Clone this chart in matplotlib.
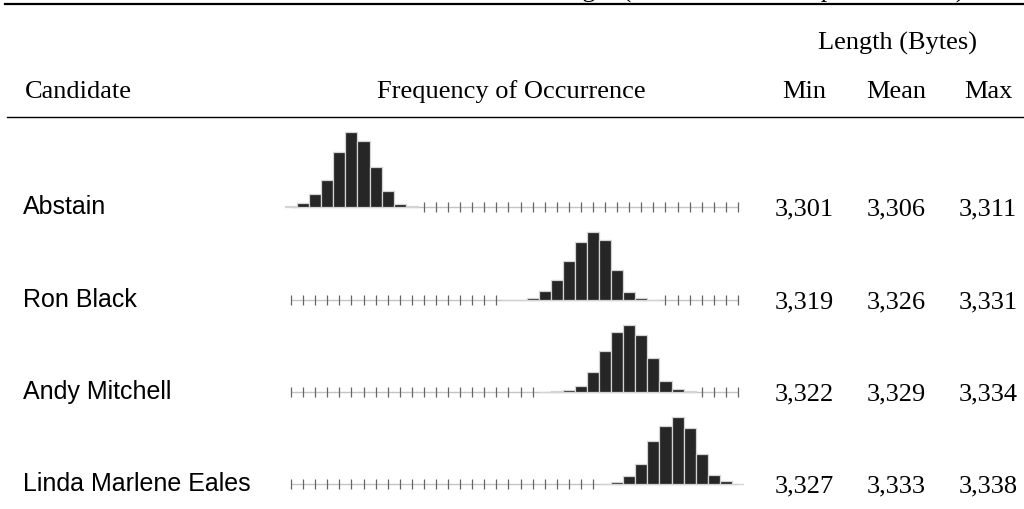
import numpy as np
import matplotlib
matplotlib.use('Agg')
import matplotlib.pyplot as plt
from matplotlib.lines import Line2D

# table data
candidates = ['Abstain', 'Ron Black', 'Andy Mitchell', 'Linda Marlene Eales']
len_min = [3301, 3319, 3322, 3327]
len_mean = [3306, 3326, 3329, 3333]
len_max = [3311, 3331, 3334, 3338]

# frequency of each length, from min to max (relative counts)
freq_abstain = [3, 12, 38, 81, 165, 225, 198, 121, 49, 10, 2]
freq_black = [1, 1, 7, 28, 61, 118, 175, 205, 179, 89, 25, 5, 1]
freq_mitchell = [1, 3, 7, 19, 60, 123, 180, 200, 170, 102, 32, 10, 2]
freq_eales = [1, 7, 23, 61, 128, 173, 200, 168, 89, 28, 10, 1]
freqs = [freq_abstain, freq_black, freq_mitchell, freq_eales]

all_lengths = np.arange(min(len_min), max(len_max) + 1)

W, H = 1024, 510
fig = plt.figure(figsize=(W / 100, H / 100), dpi=100)

def fx(px):
    return px / W

def fy(py):
    return 1 - py / H

serif = 'Liberation Serif'
sans = 'Liberation Sans'
fs = 19

# caption, cut off at the top edge as in the original
fig.text(fx(722), fy(-2), 'Ballot length (one thousand samples for each)',
         family=serif, fontsize=fs, ha='center', va='baseline')

# rules
fig.add_artist(Line2D([fx(5), fx(1024)], [fy(5), fy(5)], color='black', lw=1.6))
fig.add_artist(Line2D([fx(7), fx(1024)], [fy(118), fy(118)], color='black', lw=1.0))

# headers
fig.text(fx(897), fy(50), 'Length (Bytes)', family=serif, fontsize=fs,
         ha='center', va='baseline')
fig.text(fx(25), fy(98), 'Candidate', family=serif, fontsize=fs, va='baseline')
fig.text(fx(511), fy(98), 'Frequency of Occurrence', family=serif, fontsize=fs,
         ha='center', va='baseline')
col_x = [804, 896, 988]
for x, lab in zip(col_x, ['Min', 'Mean', 'Max']):
    fig.text(fx(x), fy(98), lab, family=serif, fontsize=fs, ha='center', va='baseline')

baselines = [208, 301, 393, 485]
x0, x1 = 285, 744
ylo, yhi = -20, 240
px_per_unit = 1 / 3

for i, name in enumerate(candidates):
    b = baselines[i]
    fig.text(fx(23), fy(b + 6), name, family=sans, fontsize=18, va='baseline')
    for x, v in zip(col_x, [len_min[i], len_mean[i], len_max[i]]):
        fig.text(fx(x), fy(b + 7), f'{v:,}', family=serif, fontsize=fs,
                 ha='center', va='baseline')

    bottom_px = b - ylo * px_per_unit
    top_px = b - yhi * px_per_unit
    ax = fig.add_axes([fx(x0), fy(bottom_px), fx(x1 - x0), (bottom_px - top_px) / H])
    ax.set_xlim(all_lengths[0] - 0.5, all_lengths[-1] + 0.5)
    ax.set_ylim(ylo, yhi)
    ax.axis('off')

    lengths = np.arange(len_min[i], len_max[i] + 1)
    ax.hlines(0, all_lengths[0], all_lengths[-1], color='#c4c4c4', lw=1.0, zorder=0)
    empty = [l for l in all_lengths if l not in lengths]
    ax.vlines(empty, -15, 15, color='#666666', lw=0.9, zorder=1)
    ax.bar(lengths, freqs[i], width=1.0, color='#262626', edgecolor='#d4d4d4',
           linewidth=0.9, zorder=2)

fig.savefig('out.png', dpi=100)
